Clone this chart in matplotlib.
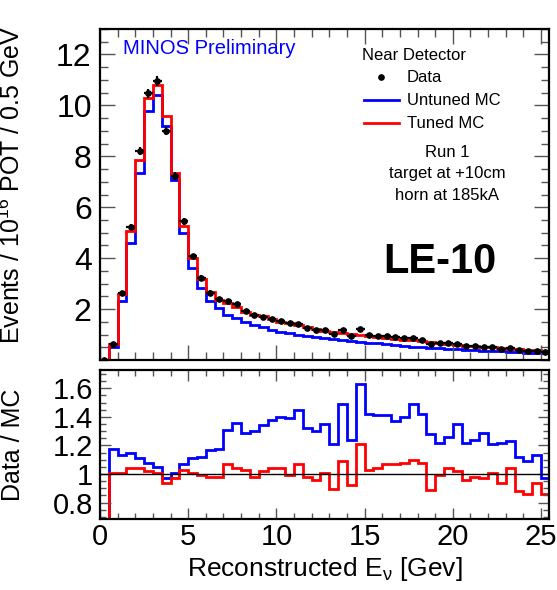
import numpy as np
import matplotlib
matplotlib.use("Agg")
import matplotlib.pyplot as plt
from matplotlib.ticker import MultipleLocator, FormatStrFormatter

plt.rcParams['font.family'] = ['Liberation Sans', 'DejaVu Sans']
plt.rcParams['mathtext.fontset'] = 'custom'
plt.rcParams['mathtext.rm'] = 'Liberation Sans'
plt.rcParams['mathtext.it'] = 'Liberation Sans'

# bin edges: 0.5 GeV bins from 0 to 25.5 GeV
bin_edges = np.arange(0, 25.51, 0.5)

# Events / 1e16 POT / 0.5 GeV
tuned_mc = [0.02, 0.62, 2.59, 5.05, 7.87, 10.29, 10.79, 9.58, 7.35, 5.25,
            4.00, 3.18, 2.69, 2.36, 2.23, 2.10, 1.90, 1.78, 1.71, 1.61,
            1.51, 1.44, 1.38, 1.28, 1.21, 1.15, 1.10, 1.06, 1.02, 0.99,
            0.95, 0.92, 0.88, 0.84, 0.80, 0.77, 0.74, 0.70, 0.66, 0.63,
            0.60, 0.57, 0.55, 0.52, 0.50, 0.47, 0.45, 0.43, 0.40, 0.38, 0.35]
untuned_mc = [0.01, 0.52, 2.30, 4.59, 7.35, 9.78, 10.41, 9.21, 7.09, 4.99,
              3.61, 2.82, 2.30, 2.03, 1.77, 1.64, 1.51, 1.38, 1.29, 1.18,
              1.12, 1.05, 0.98, 0.94, 0.90, 0.86, 0.82, 0.78, 0.74, 0.71,
              0.68, 0.65, 0.62, 0.59, 0.56, 0.53, 0.51, 0.49, 0.47, 0.45,
              0.43, 0.41, 0.39, 0.37, 0.35, 0.34, 0.32, 0.31, 0.29, 0.28, 0.26]
data = [0.02, 0.63, 2.62, 5.22, 8.20, 10.47, 10.96, 8.99, 7.22, 5.45,
        4.07, 3.22, 2.65, 2.40, 2.30, 2.20, 1.92, 1.77, 1.70, 1.62,
        1.55, 1.45, 1.42, 1.25, 1.17, 1.17, 1.01, 1.16, 0.95, 1.20,
        0.98, 0.96, 0.94, 0.90, 0.86, 0.85, 0.80, 0.63, 0.66, 0.66,
        0.61, 0.55, 0.54, 0.50, 0.50, 0.44, 0.47, 0.38, 0.35, 0.36, 0.30]
data_err = [0.02, 0.06, 0.10, 0.13, 0.16, 0.18, 0.18, 0.17, 0.15, 0.13,
            0.11, 0.10, 0.09, 0.08, 0.08, 0.08, 0.07, 0.07, 0.07, 0.07,
            0.06, 0.06, 0.06, 0.06, 0.06, 0.06, 0.05, 0.05, 0.05, 0.05,
            0.05, 0.05, 0.05, 0.05, 0.05, 0.05, 0.05, 0.04, 0.04, 0.04,
            0.04, 0.04, 0.04, 0.04, 0.04, 0.04, 0.04, 0.03, 0.03, 0.03, 0.03]

# Data / MC ratios
ratio_tuned = [0.50, 1.006, 1.01, 1.04, 1.04, 1.02, 1.01, 0.94, 0.97, 1.03,
               1.01, 0.99, 0.98, 0.98, 1.07, 1.04, 1.03, 0.98, 1.02, 1.04,
               1.04, 0.99, 1.07, 0.98, 0.96, 1.01, 0.895, 1.09, 0.92, 1.21,
               1.03, 1.04, 1.07, 1.07, 1.08, 1.10, 1.08, 0.89, 0.995, 1.04,
               1.02, 0.96, 0.98, 0.97, 1.01, 0.94, 1.04, 0.88, 0.86, 0.94, 0.86]
ratio_untuned = [0.50, 1.174, 1.13, 1.15, 1.11, 1.08, 1.05, 0.97, 1.006, 1.07,
                 1.11, 1.12, 1.17, 1.174, 1.31, 1.36, 1.29, 1.30, 1.34, 1.38,
                 1.40, 1.39, 1.45, 1.32, 1.30, 1.35, 1.21, 1.49, 1.24, 1.63,
                 1.42, 1.41, 1.41, 1.37, 1.40, 1.49, 1.42, 1.28, 1.22, 1.26,
                 1.35, 1.22, 1.24, 1.29, 1.21, 1.22, 1.23, 1.12, 1.09, 1.13, 0.97]

centers = 0.5 * (bin_edges[:-1] + bin_edges[1:])

fig = plt.figure(figsize=(5.57, 5.90), dpi=100)
ax = fig.add_axes([0.1795, 0.3898, 0.806, 0.561])
axr = fig.add_axes([0.1795, 0.1203, 0.806, 0.2525])

# top panel
ax.stairs(untuned_mc, bin_edges, color='#0000ff', lw=2.0)
ax.stairs(tuned_mc, bin_edges, color='#ff0000', lw=2.0)
ax.errorbar(centers, data, xerr=0.25, yerr=data_err, fmt='o', color='black',
            ms=3.8, elinewidth=1.6, capsize=0)

ax.set_xlim(0, 25.45)
ax.set_ylim(0, 13)
ax.set_yticks([2, 4, 6, 8, 10, 12])
ax.yaxis.set_minor_locator(MultipleLocator(0.5))
ax.xaxis.set_major_locator(MultipleLocator(5))
ax.xaxis.set_minor_locator(MultipleLocator(1))
ax.tick_params(labelbottom=False)
ax.set_ylabel(r"Events / 10$^{16}$ POT / 0.5 GeV", fontsize=18)
ax.yaxis.set_label_coords(-0.167, 0.53)

ax.text(0.051, 0.94, "MINOS Preliminary", transform=ax.transAxes,
        color='#0000ff', fontsize=14.5, va='center', ha='left')

# legend, drawn by hand
ax.text(0.583, 0.921, "Near Detector", transform=ax.transAxes,
        fontsize=12, va='center', ha='left')
ax.plot([0.626], [0.855], 'o', color='black', ms=3.8, transform=ax.transAxes)
ax.plot([0.588, 0.666], [0.785, 0.785], color='#0000ff', lw=2,
        transform=ax.transAxes)
ax.plot([0.588, 0.666], [0.716, 0.716], color='#ff0000', lw=2,
        transform=ax.transAxes)
ax.text(0.684, 0.855, "Data", transform=ax.transAxes, fontsize=12, va='center')
ax.text(0.684, 0.785, "Untuned MC", transform=ax.transAxes, fontsize=12, va='center')
ax.text(0.684, 0.716, "Tuned MC", transform=ax.transAxes, fontsize=12, va='center')
ax.text(0.773, 0.628, "Run 1", transform=ax.transAxes, fontsize=12,
        ha='center', va='center')
ax.text(0.773, 0.565, "target at +10cm", transform=ax.transAxes, fontsize=12,
        ha='center', va='center')
ax.text(0.773, 0.498, "horn at 185kA", transform=ax.transAxes, fontsize=12,
        ha='center', va='center')
ax.text(0.757, 0.296, "LE-10", transform=ax.transAxes, fontsize=30,
        fontweight='bold', ha='center', va='center')

# ratio panel
axr.stairs(ratio_untuned, bin_edges, color='#0000ff', lw=2.0)
axr.stairs(ratio_tuned, bin_edges, color='#ff0000', lw=2.0)
axr.axhline(1.0, color='black', lw=1.0)
axr.set_xlim(0, 25.45)
axr.set_ylim(0.685, 1.727)
axr.set_yticks([0.8, 1.0, 1.2, 1.4, 1.6])
axr.yaxis.set_major_formatter(FormatStrFormatter('%g'))
axr.yaxis.set_minor_locator(MultipleLocator(0.05))
axr.xaxis.set_major_locator(MultipleLocator(5))
axr.xaxis.set_minor_locator(MultipleLocator(1))
axr.set_ylabel("Data / MC", fontsize=18)
axr.yaxis.set_label_coords(-0.167, 0.5)
axr.set_xlabel(r"Reconstructed E$_{\nu}$ [Gev]", fontsize=19, labelpad=3)

for a in (ax, axr):
    a.tick_params(which='both', direction='in', top=True, right=True,
                  labelsize=23, width=1.0, color='#555555')
    a.tick_params(which='major', length=11, pad=6)
    a.tick_params(which='minor', length=5.5)
    for s in a.spines.values():
        s.set_linewidth(1.6)
axr.tick_params(which='major', length=8)
axr.tick_params(which='minor', length=4)
axr.tick_params(axis='y', labelsize=21, pad=5)
axr.tick_params(axis='x', labelsize=21, pad=3)

fig.savefig("out.png", dpi=100)
